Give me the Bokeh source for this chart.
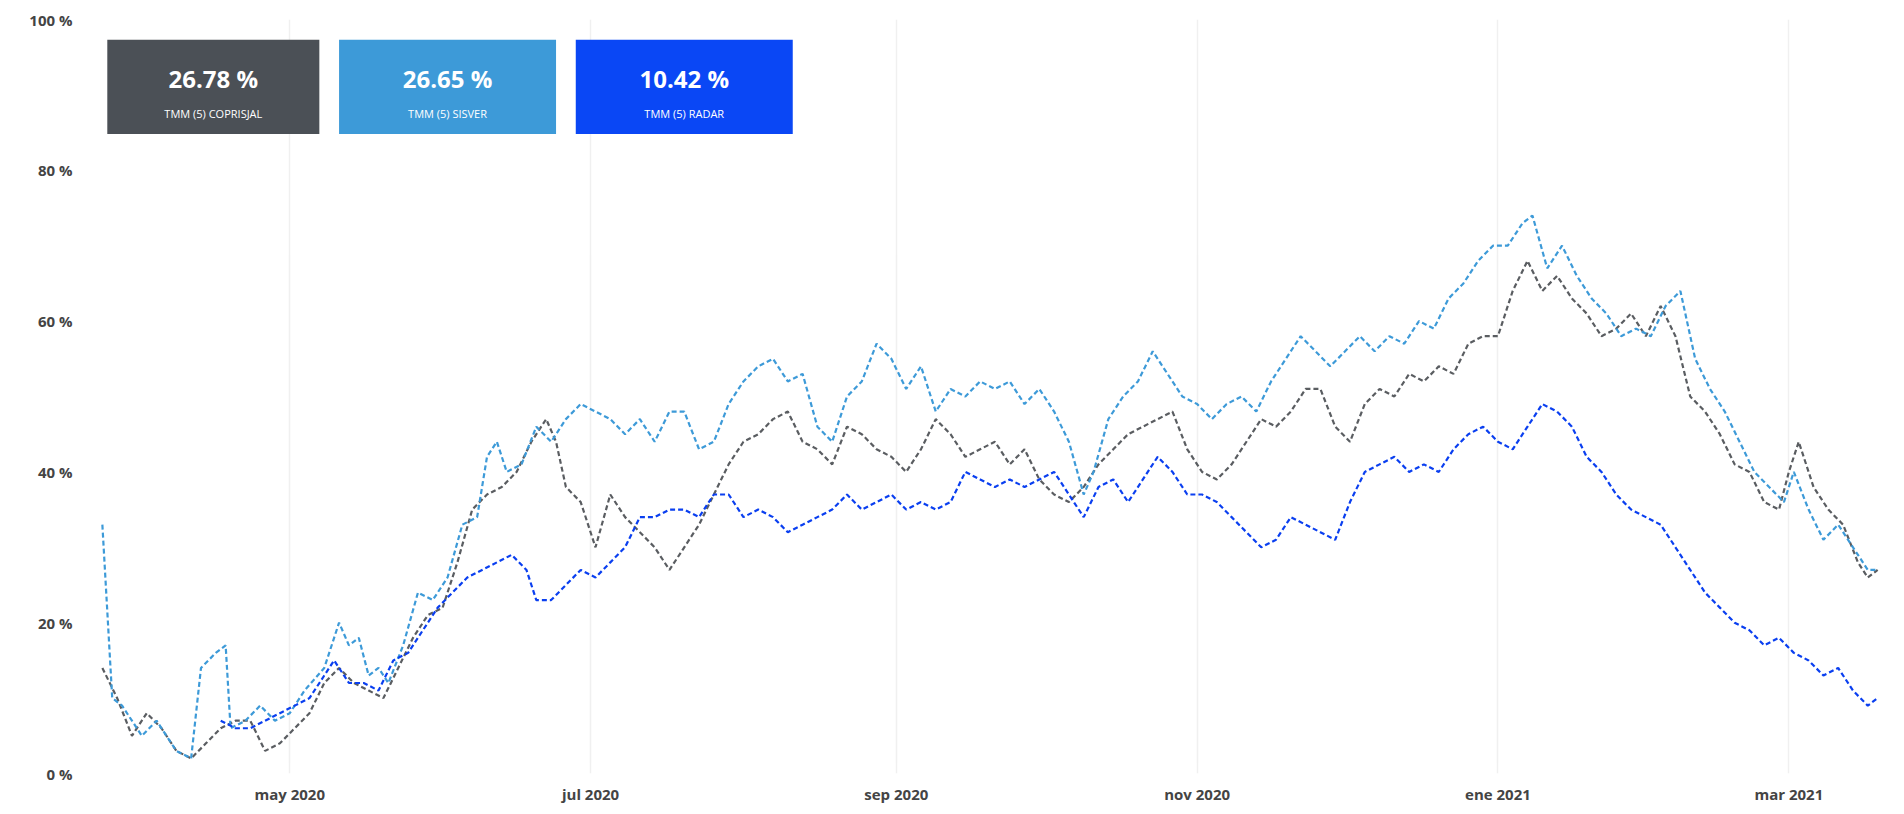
from datetime import datetime
from bokeh.plotting import figure
from bokeh.models import FixedTicker, Range1d, CustomJSTickFormatter, Label
from bokeh.embed import file_html
from bokeh.resources import INLINE

def d(s):
    return datetime.strptime(s, "%Y-%m-%d")

sisver_dates = ["2020-03-24","2020-03-26","2020-03-28","2020-04-01","2020-04-04","2020-04-08","2020-04-11","2020-04-13","2020-04-16","2020-04-18","2020-04-19","2020-04-22","2020-04-25","2020-04-28","2020-05-01","2020-05-04","2020-05-08","2020-05-11","2020-05-13","2020-05-15","2020-05-17","2020-05-19","2020-05-21","2020-05-24","2020-05-27","2020-05-30","2020-06-02","2020-06-05","2020-06-08","2020-06-10","2020-06-12","2020-06-14","2020-06-17","2020-06-20","2020-06-23","2020-06-26","2020-06-29","2020-07-02","2020-07-05","2020-07-08","2020-07-11","2020-07-14","2020-07-17","2020-07-20","2020-07-23","2020-07-26","2020-07-29","2020-08-01","2020-08-04","2020-08-07","2020-08-10","2020-08-13","2020-08-16","2020-08-19","2020-08-22","2020-08-25","2020-08-28","2020-08-31","2020-09-03","2020-09-06","2020-09-09","2020-09-12","2020-09-15","2020-09-18","2020-09-21","2020-09-24","2020-09-27","2020-09-30","2020-10-03","2020-10-06","2020-10-09","2020-10-11","2020-10-14","2020-10-17","2020-10-20","2020-10-23","2020-10-26","2020-10-29","2020-11-01","2020-11-04","2020-11-07","2020-11-10","2020-11-13","2020-11-16","2020-11-19","2020-11-22","2020-11-25","2020-11-28","2020-12-01","2020-12-04","2020-12-07","2020-12-10","2020-12-13","2020-12-16","2020-12-19","2020-12-22","2020-12-25","2020-12-28","2020-12-31","2021-01-03","2021-01-06","2021-01-08","2021-01-11","2021-01-14","2021-01-17","2021-01-20","2021-01-23","2021-01-26","2021-01-29","2021-02-01","2021-02-04","2021-02-07","2021-02-10","2021-02-13","2021-02-16","2021-02-19","2021-02-22","2021-02-25","2021-02-28","2021-03-02","2021-03-05","2021-03-08","2021-03-11","2021-03-14","2021-03-17","2021-03-19"]
sisver_vals = [33,10,9,5,7,3,2,14,16,17,6,7,9,7,8,11,14,20,17,18,13,14,12,17,24,23,26,33,34,42,44,40,41,46,44,47,49,48,47,45,47,44,48,48,43,44,49,52,54,55,52,53,46,44,50,52,57,55,51,54,48,51,50,52,51,52,49,51,48,44,37,40,47,50,52,56,53,50,49,47,49,50,48,52,55,58,56,54,56,58,56,58,57,60,59,63,65,68,70,70,73,74,67,70,66,63,61,58,59,58,62,64,55,51,48,44,40,38,36,40,35,31,33,30,27,27]

cop_dates = ["2020-03-24","2020-03-27","2020-03-30","2020-04-02","2020-04-05","2020-04-08","2020-04-11","2020-04-14","2020-04-17","2020-04-20","2020-04-23","2020-04-26","2020-04-29","2020-05-02","2020-05-05","2020-05-08","2020-05-11","2020-05-14","2020-05-17","2020-05-20","2020-05-23","2020-05-26","2020-05-29","2020-06-01","2020-06-04","2020-06-07","2020-06-10","2020-06-13","2020-06-16","2020-06-19","2020-06-22","2020-06-24","2020-06-26","2020-06-29","2020-07-02","2020-07-05","2020-07-08","2020-07-11","2020-07-14","2020-07-17","2020-07-20","2020-07-23","2020-07-26","2020-07-29","2020-08-01","2020-08-04","2020-08-07","2020-08-10","2020-08-13","2020-08-16","2020-08-19","2020-08-22","2020-08-25","2020-08-28","2020-08-31","2020-09-03","2020-09-06","2020-09-09","2020-09-12","2020-09-15","2020-09-18","2020-09-21","2020-09-24","2020-09-27","2020-09-30","2020-10-03","2020-10-06","2020-10-09","2020-10-12","2020-10-15","2020-10-18","2020-10-21","2020-10-24","2020-10-27","2020-10-30","2020-11-02","2020-11-05","2020-11-08","2020-11-11","2020-11-14","2020-11-17","2020-11-20","2020-11-23","2020-11-26","2020-11-29","2020-12-02","2020-12-05","2020-12-08","2020-12-11","2020-12-14","2020-12-17","2020-12-20","2020-12-23","2020-12-26","2020-12-29","2021-01-01","2021-01-04","2021-01-07","2021-01-10","2021-01-13","2021-01-16","2021-01-19","2021-01-22","2021-01-25","2021-01-28","2021-01-31","2021-02-03","2021-02-06","2021-02-09","2021-02-12","2021-02-15","2021-02-18","2021-02-21","2021-02-24","2021-02-27","2021-03-01","2021-03-03","2021-03-06","2021-03-09","2021-03-12","2021-03-15","2021-03-17","2021-03-19"]
cop_vals = [14,10,5,8,6,3,2,4,6,7,7,3,4,6,8,12,14,12,11,10,14,18,21,22,28,35,37,38,40,44,47,44,38,36,30,37,34,32,30,27,30,33,37,41,44,45,47,48,44,43,41,46,45,43,42,40,43,47,45,42,43,44,41,43,39,37,36,38,41,43,45,46,47,48,43,40,39,41,44,47,46,48,51,51,46,44,49,51,50,53,52,54,53,57,58,58,64,68,64,66,63,61,58,59,61,58,62,58,50,48,45,41,40,36,35,40,44,38,35,33,28,26,27]

radar_dates = ["2020-04-17","2020-04-20","2020-04-23","2020-04-26","2020-04-29","2020-05-02","2020-05-05","2020-05-08","2020-05-10","2020-05-13","2020-05-16","2020-05-19","2020-05-22","2020-05-25","2020-05-28","2020-05-31","2020-06-03","2020-06-06","2020-06-09","2020-06-12","2020-06-15","2020-06-18","2020-06-20","2020-06-23","2020-06-26","2020-06-29","2020-07-02","2020-07-05","2020-07-08","2020-07-11","2020-07-14","2020-07-17","2020-07-20","2020-07-23","2020-07-26","2020-07-29","2020-08-01","2020-08-04","2020-08-07","2020-08-10","2020-08-13","2020-08-16","2020-08-19","2020-08-22","2020-08-25","2020-08-28","2020-08-31","2020-09-03","2020-09-06","2020-09-09","2020-09-12","2020-09-15","2020-09-18","2020-09-21","2020-09-24","2020-09-27","2020-09-30","2020-10-03","2020-10-06","2020-10-09","2020-10-12","2020-10-15","2020-10-18","2020-10-21","2020-10-24","2020-10-27","2020-10-30","2020-11-02","2020-11-05","2020-11-08","2020-11-11","2020-11-14","2020-11-17","2020-11-20","2020-11-23","2020-11-26","2020-11-29","2020-12-02","2020-12-05","2020-12-08","2020-12-11","2020-12-14","2020-12-17","2020-12-20","2020-12-23","2020-12-26","2020-12-29","2021-01-01","2021-01-04","2021-01-07","2021-01-10","2021-01-13","2021-01-16","2021-01-19","2021-01-22","2021-01-25","2021-01-28","2021-01-31","2021-02-03","2021-02-06","2021-02-09","2021-02-12","2021-02-15","2021-02-18","2021-02-21","2021-02-24","2021-02-27","2021-03-02","2021-03-05","2021-03-08","2021-03-11","2021-03-14","2021-03-17","2021-03-19"]
radar_vals = [7,6,6,7,8,9,10,13,15,12,12,11,15,16,19,22,24,26,27,28,29,27,23,23,25,27,26,28,30,34,34,35,35,34,37,37,34,35,34,32,33,34,35,37,35,36,37,35,36,35,36,40,39,38,39,38,39,40,37,34,38,39,36,39,42,40,37,37,36,34,32,30,31,34,33,32,31,36,40,41,42,40,41,40,43,45,46,44,43,46,49,48,46,42,40,37,35,34,33,30,27,24,22,20,19,17,18,16,15,13,14,11,9,10]

tick_dates = ["2020-05-01","2020-07-01","2020-09-01","2020-11-01","2021-01-01","2021-03-01"]
tick_labels = ["may 2020","jul 2020","sep 2020","nov 2020","ene 2021","mar 2021"]
y_ticks = [0, 20, 40, 60, 80, 100]

cards = [("26.78 %", "TMM (5) COPRISJAL", "#4b5056"),
         ("26.65 %", "TMM (5) SISVER", "#3d9ad8"),
         ("10.42 %", "TMM (5) RADAR", "#0a47f5")]

def ms(s):
    return d(s).timestamp() * 1000

p = figure(width=1888, height=806, x_axis_type="datetime", output_backend="svg",
           toolbar_location=None, x_range=Range1d(ms("2020-03-22"), ms("2021-03-21")),
           y_range=Range1d(0, 100), min_border_left=92, min_border_right=1,
           min_border_top=19, min_border_bottom=4)
p.outline_line_color = None
p.background_fill_color = "white"

p.line([d(s) for s in cop_dates], cop_vals, color="#5a5d61", line_width=2.2, line_dash="5 3")
p.line([d(s) for s in sisver_dates], sisver_vals, color="#3d9ad8", line_width=2.2, line_dash="5 3")
p.line([d(s) for s in radar_dates], radar_vals, color="#0a3ff0", line_width=2.2, line_dash="5 3")

p.xaxis.ticker = FixedTicker(ticks=[ms(s) for s in tick_dates])
p.xaxis.major_label_overrides = {ms(s): l for s, l in zip(tick_dates, tick_labels)}
p.yaxis.ticker = FixedTicker(ticks=y_ticks)
p.yaxis.formatter = CustomJSTickFormatter(code="return tick + ' %';")
for ax in (p.xaxis[0], p.yaxis[0]):
    ax.axis_line_color = None
    ax.major_tick_line_color = None
    ax.minor_tick_line_color = None
    ax.major_label_text_font = "Open Sans"
    ax.major_label_text_font_style = "bold"
    ax.major_label_text_color = "#444444"
    ax.major_label_text_font_size = "15px"
p.yaxis.major_label_standoff = 14
p.xaxis.major_label_standoff = 4
p.ygrid.grid_line_color = None
p.xgrid.grid_line_color = "#f0f0f0"
p.xgrid.grid_line_width = 1.5

# stat cards (data-space placement)
card_x = [("2020-03-25", "2020-05-07"), ("2020-05-11", "2020-06-24"), ("2020-06-28", "2020-08-11")]
for (val, lab, col), (x0, x1) in zip(cards, card_x):
    p.quad(left=d(x0), right=d(x1), bottom=84.8, top=97.3, fill_color=col, line_color=None)
    xm = (ms(x0) + ms(x1)) / 2
    p.add_layout(Label(x=xm, y=92.2, text=val, text_align="center", text_baseline="middle",
                       text_color="white", text_font="Open Sans", text_font_style="bold",
                       text_font_size="24px"))
    p.add_layout(Label(x=xm, y=87.5, text=lab, text_align="center", text_baseline="middle",
                       text_color="white", text_font="Open Sans", text_font_size="11px"))

open("out.html", "w").write(file_html(p, INLINE))
